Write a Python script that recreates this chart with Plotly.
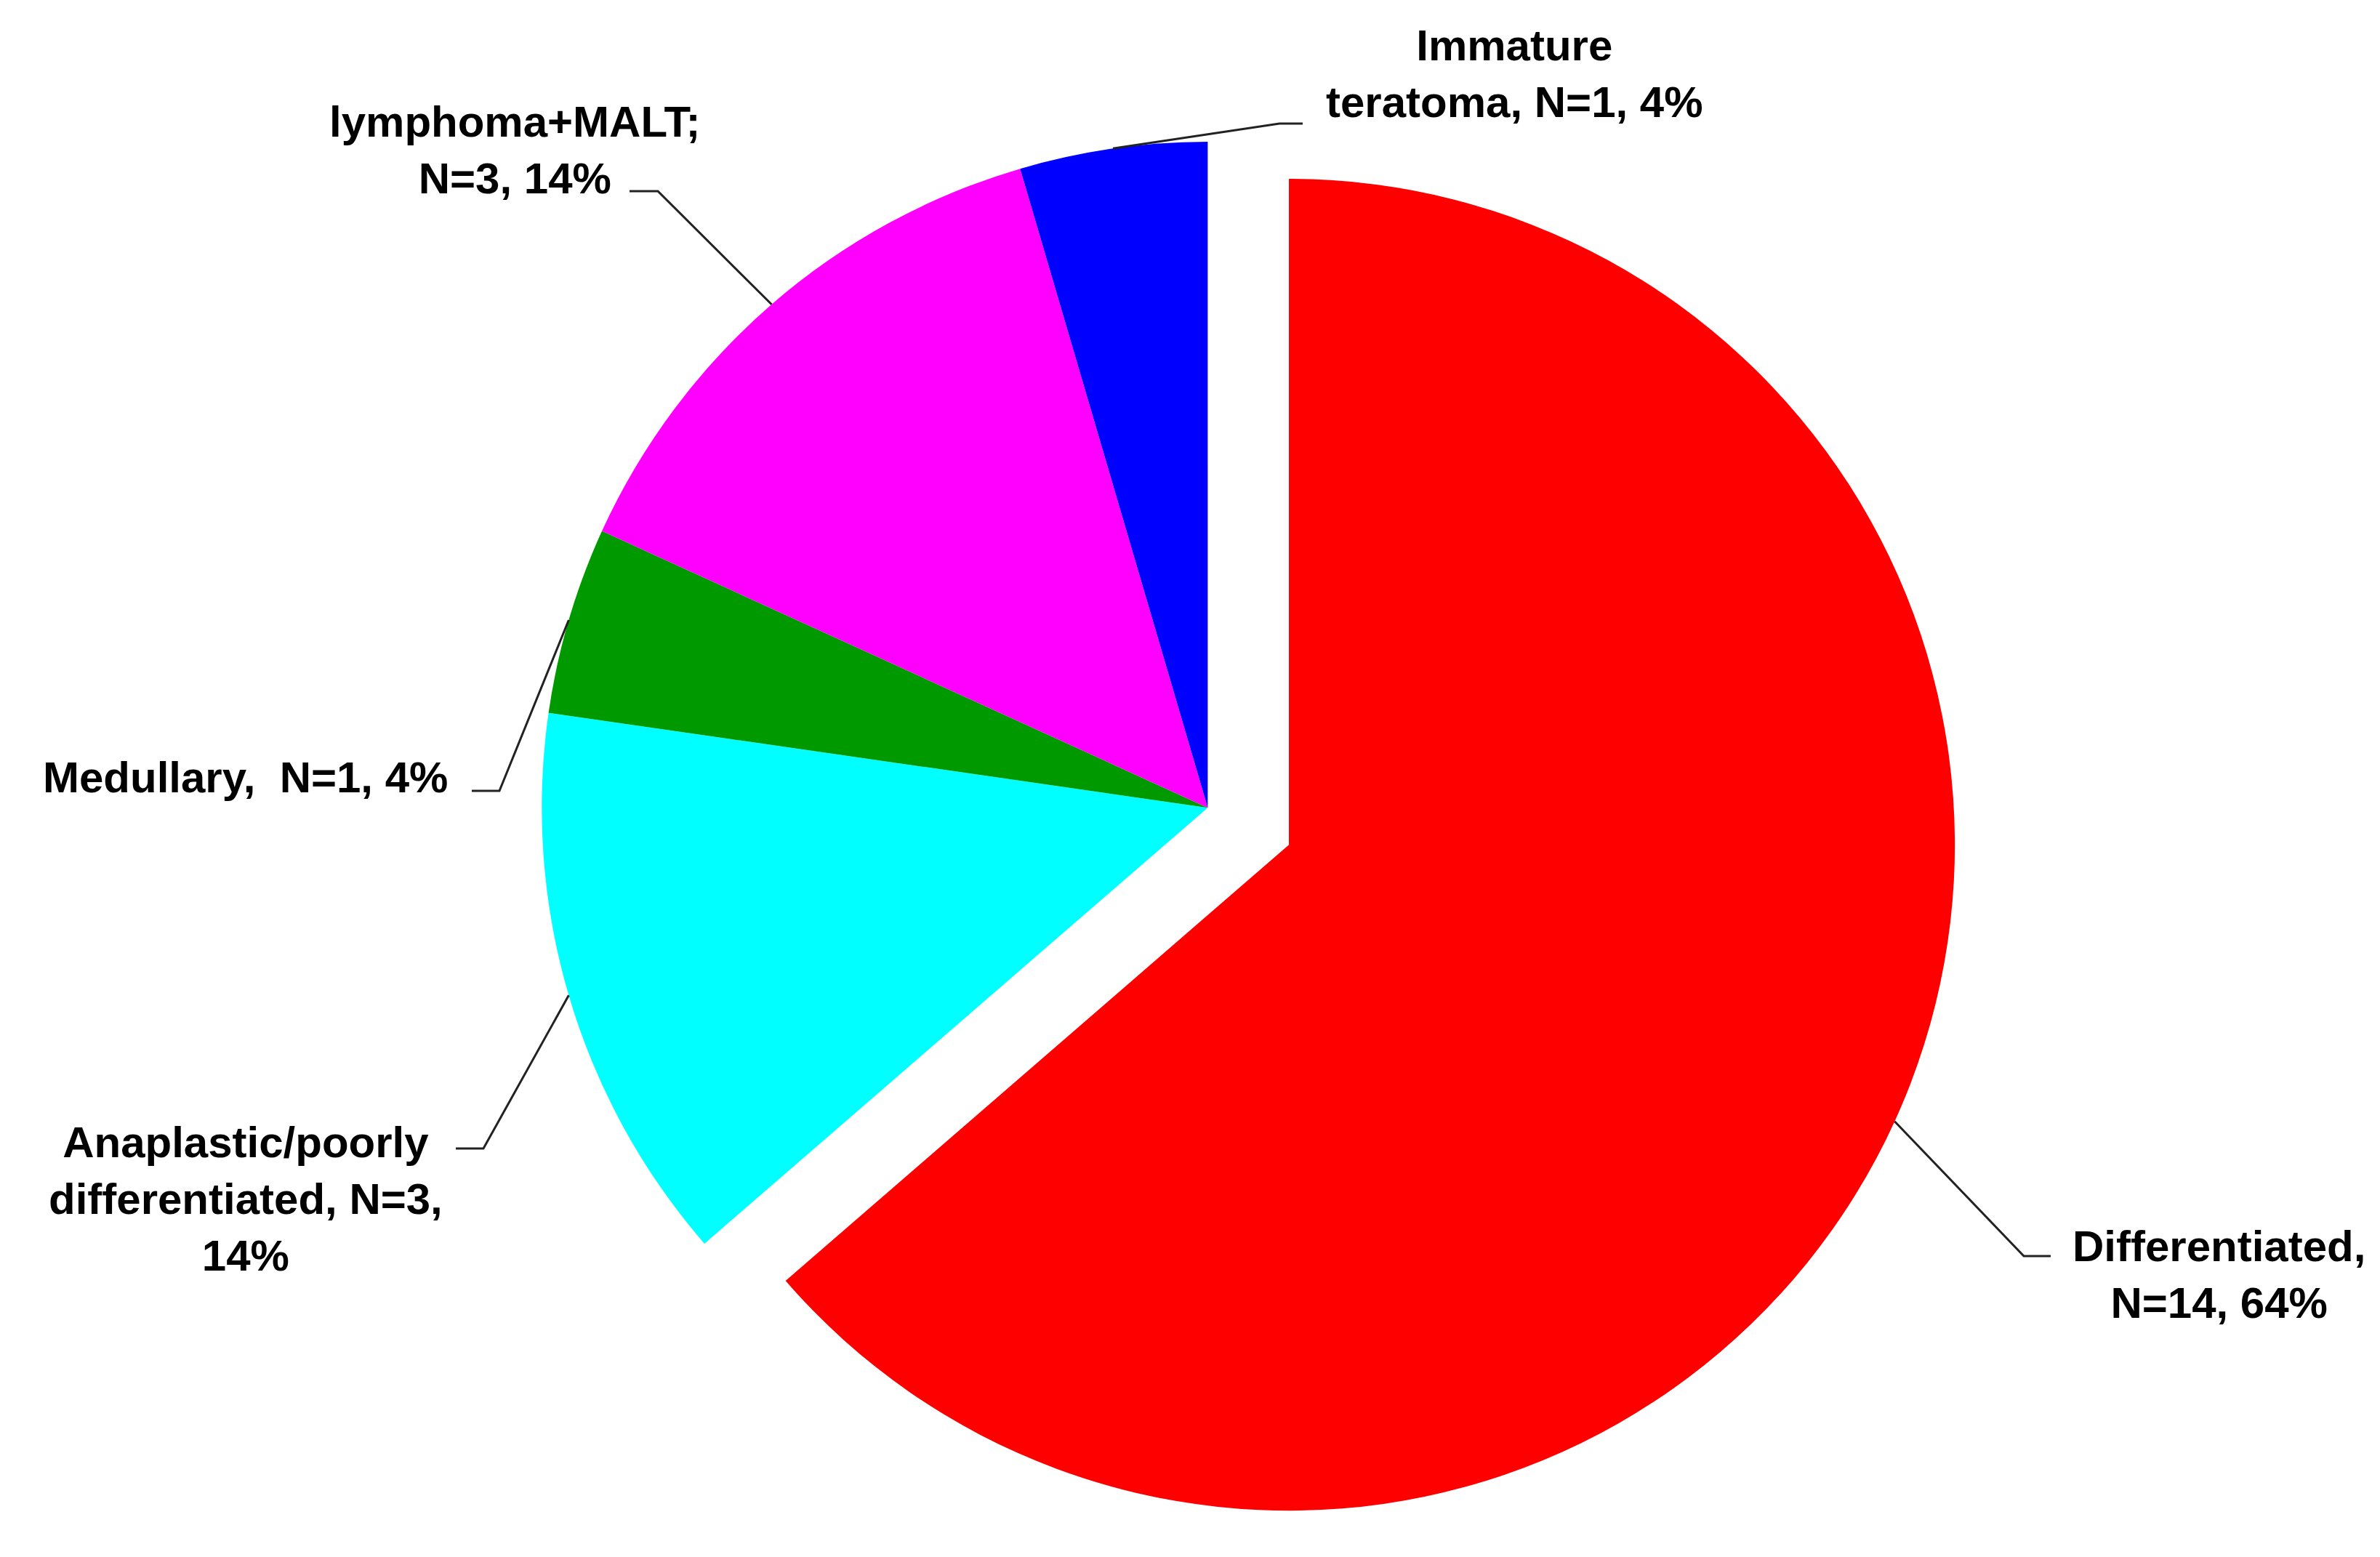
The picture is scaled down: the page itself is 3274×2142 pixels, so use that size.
import math
import plotly.graph_objects as go

# ---- data ----
categories = ["Differentiated", "Anaplastic/poorly differentiated", "Medullary",
              "lymphoma+MALT", "Immature teratoma"]
counts = [14, 3, 1, 3, 1]
percents = [64, 14, 4, 14, 4]
label_texts = [
    "Differentiated,<br>N=14, 64%",
    "Anaplastic/poorly<br>differentiated, N=3,<br>14%",
    "Medullary,  N=1, 4%",
    "lymphoma+MALT;<br>N=3, 14%",
    "Immature<br>teratoma, N=1, 4%",
]
colors = ["#FF0000", "#00FFFF", "#009900", "#FF00FF", "#0000FF"]
pulls = [0.134, 0, 0, 0, 0]

# ---- layout constants (pixels) ----
W, H = 3274, 2142
dom_x = [0.165, 0.845]
dom_y = [0.0, 0.97]
# label centre (x, y) and leader elbow / stub end in pixels
label_pos = [(3044, 1745), (330, 1641), (329, 1061), (700, 198), (2075, 94)]
elbows = [(2776, 1720), (657, 1572), (679, 1080), (897, 255), (1752, 162)]
stub_ends = [(2813, 1720), (619, 1572), (641, 1080), (858, 255), (1784, 162)]

FONT = "Liberation Sans, Arial, sans-serif"

fig = go.Figure(go.Pie(
    labels=categories,
    values=counts,
    marker=dict(colors=colors, line=dict(width=0)),
    pull=pulls,
    sort=False,
    direction="clockwise",
    rotation=0,
    textinfo="none",
    hoverinfo="label+value+percent",
    domain=dict(x=dom_x, y=dom_y),
    showlegend=False,
))

# pie geometry as plotly computes it
box_w = W * (dom_x[1] - dom_x[0])
box_h = H * (dom_y[1] - dom_y[0])
r = min(box_w, box_h) / (2 + 2 * max(pulls))
cx = W * (dom_x[0] + dom_x[1]) / 2
cy = H * (1 - dom_y[0]) - box_h / 2

def px2paper(x, y):
    return x / W, 1 - y / H

total = sum(counts)
cum = 0
shapes = []
annotations = []
for i, n in enumerate(counts):
    mid = (cum + n / 2) / total * 2 * math.pi
    cum += n
    sx, sy = math.sin(mid), -math.cos(mid)
    ox = cx + pulls[i] * r * sx
    oy = cy + pulls[i] * r * sy
    ex, ey = ox + r * sx, oy + r * sy
    p0 = px2paper(ex, ey)
    p1 = px2paper(*elbows[i])
    p2 = px2paper(*stub_ends[i])
    shapes.append(dict(
        type="path", xref="paper", yref="paper",
        path=f"M {p0[0]} {p0[1]} L {p1[0]} {p1[1]} L {p2[0]} {p2[1]}",
        line=dict(color="#222222", width=3),
    ))
    lx, ly = px2paper(*label_pos[i])
    annotations.append(dict(
        x=lx, y=ly, xref="paper", yref="paper",
        text="<b>" + label_texts[i] + "</b>",
        showarrow=False, xanchor="center", yanchor="middle", align="center",
        font=dict(family=FONT, size=60, color="black"),
    ))

fig.update_layout(
    width=W, height=H,
    margin=dict(l=0, r=0, t=0, b=0),
    paper_bgcolor="white",
    plot_bgcolor="white",
    shapes=shapes,
    annotations=annotations,
)

fig.write_html("out.html")
